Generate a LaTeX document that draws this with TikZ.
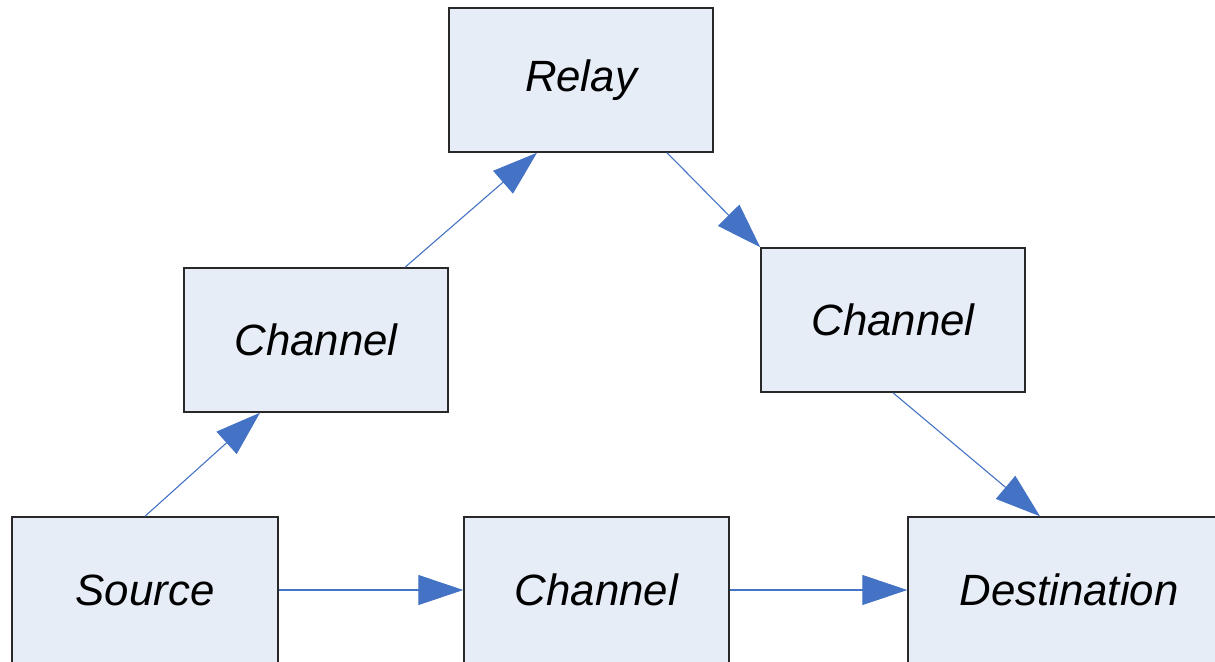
\documentclass[tikz,border=0pt]{standalone}
\usepackage{fontspec}
\setmainfont{Liberation Sans}
\usetikzlibrary{arrows.meta,calc}
\definecolor{boxfill}{RGB}{231,237,247}
\definecolor{boxline}{RGB}{40,40,40}
\definecolor{linkblue}{RGB}{68,114,196}
\tikzset{
  unit/.style={draw=boxline, line width=0.75pt, fill=boxfill, rectangle,
    minimum width=132pt, minimum height=72pt, inner sep=0pt,
    font=\fontsize{21.9}{26}\selectfont\itshape},
  link/.style={draw=linkblue, line width=0.55pt,
    -{Triangle[length=22.5pt,width=15pt,fill=linkblue]}}
}
\begin{document}
\begin{tikzpicture}[x=0.5pt,y=-0.5pt]
\useasboundingbox (0,0) rectangle (1215,661);
\clip (0,0) rectangle (1215,661);
% blocks
\node[unit] (relay) at (581,80) {Relay};
\node[unit] (chL) at (316,340) {Channel};
\node[unit] (chR) at (893,320) {Channel};
\node[unit, minimum width=133pt, minimum height=73pt] (src) at (145,590) {Source};
\node[unit, minimum width=132.5pt, minimum height=73pt] (chB) at (596.5,590) {Channel};
\node[unit, minimum width=161pt, minimum height=73pt] (dst) at (1069,590) {Destination};
% links
\draw[link] (src.north) -- ($(chL.south)+(-56,0)$);
\draw[link] ($(chL.north)+(89,0)$) -- ($(relay.south)+(-44,0)$);
\draw[link] ($(relay.south)+(86,0)$) -- (chR.north west);
\draw[link] (chR.south) -- ($(dst.north)+(-29,0)$);
\draw[link] (src.east) -- (chB.west);
\draw[link] (chB.east) -- (dst.west);
\end{tikzpicture}
\end{document}
